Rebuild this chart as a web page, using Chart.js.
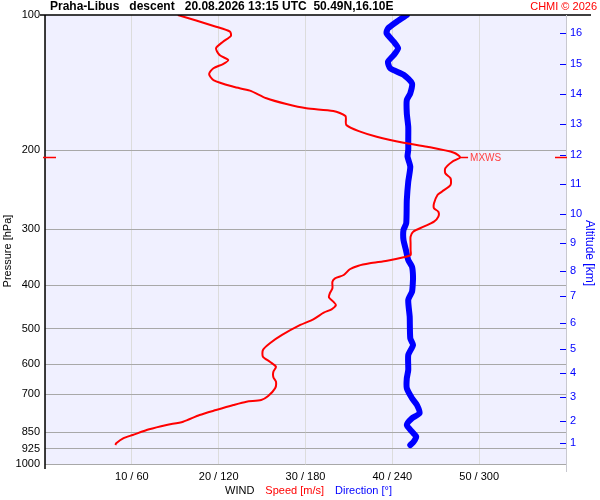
<!DOCTYPE html>
<html>
<head>
<meta charset="utf-8">
<script src="https://cdn.jsdelivr.net/npm/chart.js@4/dist/chart.umd.min.js"></script>
<style>
  html, body { margin: 0; padding: 0; background: #ffffff; }
  #wrap { width: 600px; height: 500px; }
</style>
</head>
<body>
<div id="wrap"><canvas id="c" width="600" height="500"></canvas></div>
<script>
// wind speed profile [m/s] vs pressure [hPa]
const speedP = [100, 106.2, 108.9, 111.4, 114.7, 118.6, 122.8, 126.0, 128.6, 131.4, 135.3, 139.6, 144.5, 147.4, 153.3, 157.9, 161.4, 163.6, 167.9, 175.8, 181.9, 186.7, 192.5, 196.5, 202.6, 207.5, 212.2, 219.5, 225.2, 231.0, 239.1, 247.5, 251.7, 262.7, 269.5, 274.2, 281.3, 288.6, 296.1, 303.8, 311.7, 322.4, 333.7, 342.4, 346.4, 352.5, 357.3, 361.7, 368.4, 379.4, 385.8, 392.6, 406.1, 416.7, 425.3, 435.0, 442.4, 452.3, 460.2, 476.1, 490.2, 516.0, 538.5, 557.3, 576.8, 591.8, 607.2, 622.9, 641.1, 655.7, 678.3, 705.6, 720.2, 726.5, 738.9, 758.1, 777.8, 805.0, 818.7, 837.0, 861.8, 876.5, 899.3, 907.2];
const speed = [15.3, 19.7, 21.3, 21.4, 20.5, 19.7, 20.1, 21.1, 20.5, 19.4, 18.9, 19.4, 21.7, 23.6, 25.5, 27.8, 30.1, 33.2, 34.6, 34.7, 36.3, 38.2, 41.3, 44.0, 47.1, 47.8, 46.9, 46.1, 46.1, 46.7, 46.7, 45.7, 45.2, 44.8, 44.8, 45.3, 45.3, 44.8, 43.6, 42.4, 42.1, 42.1, 42.1, 42.1, 41.3, 39.4, 37.4, 36.1, 35.1, 34.4, 33.4, 33.1, 33.1, 32.8, 32.7, 33.2, 33.5, 33.0, 32.1, 30.9, 29.4, 27.3, 25.9, 25.1, 25.1, 25.9, 26.6, 26.3, 26.3, 26.6, 26.5, 25.7, 24.9, 23.2, 21.7, 19.7, 17.8, 15.9, 14.0, 12.0, 10.1, 9.0, 8.2, 8.1];

// wind direction profile [deg] vs pressure [hPa]
const dirP = [100, 103.5, 107.1, 109.8, 114.7, 118.6, 122.8, 127.1, 131.4, 136.0, 142.0, 149.4, 154.6, 165.6, 177.3, 189.9, 199.8, 206.8, 217.7, 235.1, 258.3, 291.0, 301.2, 317.0, 333.7, 351.3, 363.6, 382.7, 402.8, 413.3, 431.2, 469.8, 524.8, 543.2, 571.8, 617.5, 644.4, 678.3, 713.9, 738.9, 771.1, 791.1, 818.7, 847.3, 869.4, 891.9, 907.2];
const dir = [250, 243, 237, 236, 241, 244, 241, 237, 238.5, 248, 253.6, 252.4, 250, 250, 251, 251, 251, 250.5, 252.4, 251, 250, 249.6, 247.7, 247.7, 249.4, 251, 253.6, 254.3, 254, 253.6, 251, 252, 252.4, 254.3, 251, 251, 250, 250, 253.6, 257, 258.8, 253.6, 250, 253.6, 256.5, 254.7, 252.4];

// axis ticks
const pressureTicks = [100, 200, 300, 400, 500, 600, 700, 850, 925, 1000];
const speedTicks = [10, 20, 30, 40, 50];
const dirTicks = [60, 120, 180, 240, 300];
const altKm = [1, 2, 3, 4, 5, 6, 7, 8, 9, 10, 11, 12, 13, 14, 15, 16];
const altP = [899, 802, 708, 627, 553.6, 484.6, 422.6, 371.7, 321.9, 277.5, 237.8, 205, 175.2, 150, 128.6, 109.7];

const FONT = 'Arial, "Liberation Sans", sans-serif';
Chart.defaults.font.family = FONT;
Chart.defaults.font.size = 11;
Chart.defaults.color = '#000';

const speedPts = speed.map((v, i) => ({ x: v, y: speedP[i] }));
const dirPts = dir.map((v, i) => ({ x: v, y: dirP[i] }));

// level of max wind
let maxI = 0;
speed.forEach((v, i) => { if (v > speed[maxI]) maxI = i; });

const deco = {
  id: 'deco',
  beforeDraw(chart) {
    const { ctx, chartArea: a } = chart;
    ctx.save();
    ctx.fillStyle = '#f0f0ff';
    ctx.fillRect(a.left, a.top, a.right - a.left, a.bottom - a.top);
    ctx.restore();
  },
  afterDraw(chart) {
    const { ctx, chartArea: a, scales } = chart;
    ctx.save();
    // frame
    ctx.strokeStyle = '#000';
    ctx.lineWidth = 1.5;
    ctx.beginPath();
    ctx.moveTo(40, a.top); ctx.lineTo(591, a.top);
    ctx.moveTo(a.left, a.top); ctx.lineTo(a.left, a.bottom + 5);
    ctx.stroke();
    ctx.strokeStyle = '#c8c8d0';
    ctx.lineWidth = 1;
    ctx.beginPath();
    ctx.moveTo(a.right + 0.5, a.top); ctx.lineTo(a.right + 0.5, a.bottom + 8);
    ctx.stroke();

    // altitude ticks inside right edge
    ctx.strokeStyle = '#0000ff';
    ctx.beginPath();
    altP.forEach(p => {
      const y = Math.round(scales.alt.getPixelForValue(p)) + 0.5;
      ctx.moveTo(a.right - 6, y); ctx.lineTo(a.right, y);
    });
    ctx.stroke();

    // MXWS marks
    const my = Math.round(scales.y.getPixelForValue(speedP[maxI])) + 0.5;
    const mx = scales.x.getPixelForValue(speed[maxI]);
    ctx.strokeStyle = '#ff0000';
    ctx.lineWidth = 1.5;
    ctx.beginPath();
    ctx.moveTo(a.left - 2, my); ctx.lineTo(a.left + 11, my);
    ctx.moveTo(a.right - 11, my); ctx.lineTo(a.right + 1, my);
    ctx.moveTo(mx, my); ctx.lineTo(mx + 8, my);
    ctx.stroke();
    ctx.fillStyle = '#ff4040';
    ctx.font = '10px ' + FONT;
    ctx.textBaseline = 'middle';
    ctx.textAlign = 'left';
    ctx.fillText('MXWS', mx + 10, my + 1);

    // title
    ctx.fillStyle = '#000';
    ctx.font = 'bold 12px ' + FONT;
    ctx.fillText('Praha-Libus   descent   20.08.2026 13:15 UTC  50.49N,16.10E', 50, 7);
    ctx.fillStyle = '#ff0000';
    ctx.font = '11px ' + FONT;
    ctx.textAlign = 'right';
    ctx.fillText('CHMI \u00a9 2026', 597, 7);

    // bottom legend text
    ctx.textAlign = 'left';
    ctx.font = '11px ' + FONT;
    let x = 225;
    const parts = [['WIND', '#000'], ['Speed [m/s]', '#ff0000'], ['Direction [\u00b0]', '#0000ff']];
    parts.forEach(([t, c]) => {
      ctx.fillStyle = c;
      ctx.fillText(t, x, 491);
      x += ctx.measureText(t).width + 11;
    });

    // axis titles
    ctx.save();
    ctx.translate(8, 251);
    ctx.rotate(-Math.PI / 2);
    ctx.textAlign = 'center';
    ctx.fillStyle = '#000';
    ctx.font = '11px ' + FONT;
    ctx.fillText('Pressure [hPa]', 0, 0);
    ctx.restore();

    ctx.save();
    ctx.translate(589, 253);
    ctx.rotate(Math.PI / 2);
    ctx.textAlign = 'center';
    ctx.fillStyle = '#0000ff';
    ctx.font = '12px ' + FONT;
    ctx.fillText('Altitude [km]', 0, 0);
    ctx.restore();

    ctx.restore();
  }
};

new Chart(document.getElementById('c'), {
  type: 'scatter',
  data: {
    datasets: [
      {
        label: 'Speed [m/s]',
        data: speedPts,
        xAxisID: 'x',
        yAxisID: 'y',
        showLine: true,
        borderColor: '#ff0000',
        borderWidth: 2,
        pointRadius: 0,
        tension: 0.25
      },
      {
        label: 'Direction',
        data: dirPts,
        xAxisID: 'xd',
        yAxisID: 'y',
        showLine: true,
        borderColor: '#0000ff',
        borderWidth: 6,
        borderCapStyle: 'round',
        borderJoinStyle: 'round',
        pointRadius: 0,
        tension: 0.2
      }
    ]
  },
  options: {
    responsive: false,
    animation: false,
    layout: { padding: { top: 15, left: 0, right: 0, bottom: 0 } },
    plugins: { legend: { display: false }, tooltip: { enabled: false } },
    scales: {
      x: {
        type: 'linear',
        position: 'bottom',
        min: 0,
        max: 60,
        afterBuildTicks: s => { s.ticks = [0, ...speedTicks, 60].map(v => ({ value: v })); },
        afterFit: s => { s.height = 36; },
        ticks: {
          autoSkip: false,
          maxRotation: 0,
          padding: 6,
          color: '#000',
          callback: v => {
            const i = speedTicks.indexOf(v);
            return i >= 0 ? v + ' / ' + dirTicks[i] : '';
          }
        },
        grid: { color: '#dcdcdc', drawTicks: false },
        border: { display: false }
      },
      xd: {
        type: 'linear',
        display: false,
        min: 0,
        max: 360
      },
      y: {
        type: 'logarithmic',
        position: 'left',
        reverse: true,
        min: 100,
        max: 1000,
        afterBuildTicks: s => { s.ticks = pressureTicks.map(v => ({ value: v })); },
        afterFit: s => { s.width = 45; },
        ticks: {
          autoSkip: false,
          padding: 5,
          color: '#000',
          callback: v => String(v)
        },
        grid: {
          drawTicks: false,
          color: c => (c.tick && c.tick.value === 100) ? 'rgba(0,0,0,0)' : '#a8a8a8'
        },
        border: { display: false }
      },
      alt: {
        type: 'logarithmic',
        position: 'right',
        reverse: true,
        min: 100,
        max: 1000,
        afterBuildTicks: s => { s.ticks = altP.map(v => ({ value: v })); },
        afterFit: s => { s.width = 34; },
        ticks: {
          autoSkip: false,
          padding: 4,
          color: '#0000ff',
          callback: (v, i) => String(altKm[i])
        },
        grid: { drawOnChartArea: false, drawTicks: false },
        border: { display: false }
      }
    }
  },
  plugins: [deco]
});
</script>
</body>
</html>
